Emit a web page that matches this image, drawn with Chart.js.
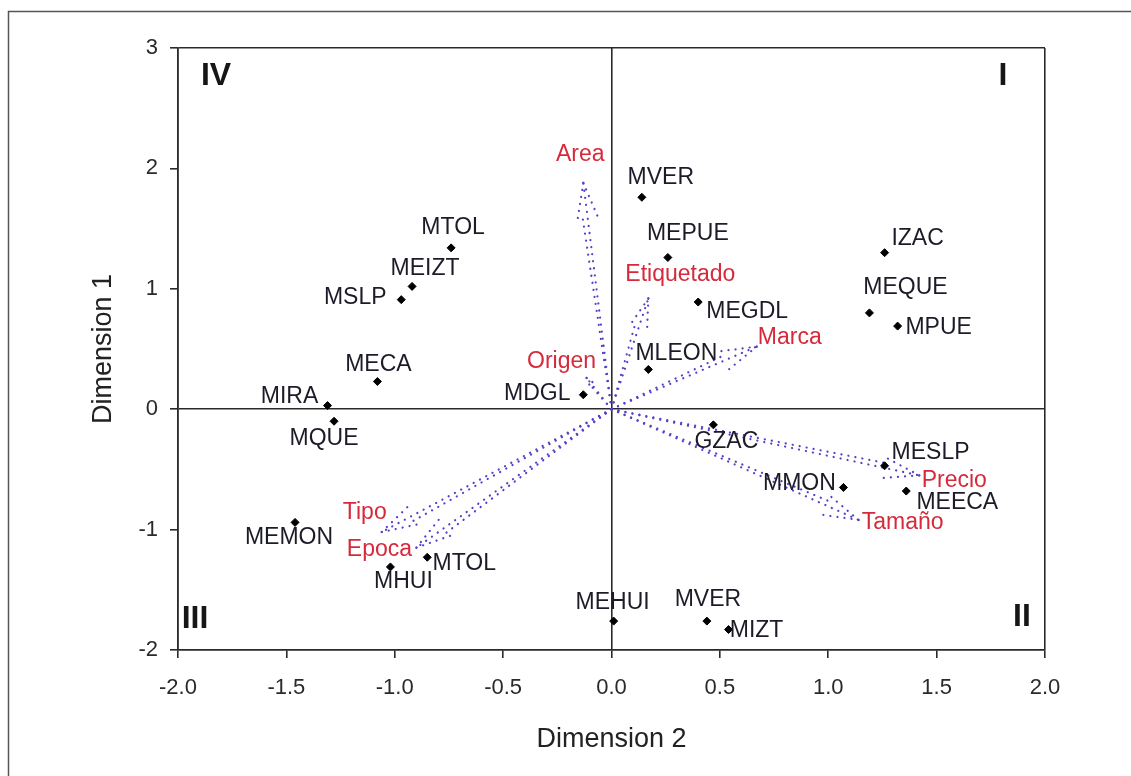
<!DOCTYPE html>
<html>
<head>
<meta charset="utf-8">
<script src="https://cdn.jsdelivr.net/npm/chart.js@4/dist/chart.umd.min.js"></script>
<style>
  html, body { margin: 0; padding: 0; background: #fff; }
  #wrap { width: 1131px; height: 776px; position: relative; }
</style>
</head>
<body>
<div id="wrap"><canvas id="chart"></canvas></div>
<script>
// puntos (mercados) : Dimension 2 = x, Dimension 1 = y
const pointNames = ['MVER', 'MEPUE', 'MEGDL', 'MLEON', 'MDGL', 'IZAC', 'MEQUE', 'MPUE',
    'GZAC', 'MESLP', 'MMON', 'MEECA', 'MEHUI', 'MVER', 'MIZT', 'MTOL', 'MEIZT', 'MSLP',
    'MECA', 'MIRA', 'MQUE', 'MEMON', 'MHUI', 'MTOL'];
const dim2 = [0.14, 0.26, 0.40, 0.17, -0.13, 1.26, 1.19, 1.32,
    0.47, 1.26, 1.07, 1.36, 0.01, 0.44, 0.54, -0.74, -0.92, -0.97,
    -1.08, -1.31, -1.28, -1.46, -1.02, -0.85];
const dim1 = [1.76, 1.26, 0.89, 0.33, 0.12, 1.30, 0.80, 0.69,
    -0.13, -0.47, -0.65, -0.68, -1.76, -1.76, -1.83, 1.34, 1.02, 0.91,
    0.23, 0.03, -0.10, -0.94, -1.31, -1.23];

// variables (flechas)
const varNames = ['Area', 'Etiquetado', 'Marca', 'Origen', 'Precio', 'Tamaño', 'Tipo', 'Epoca'];
const varDim2 = [-0.13, 0.17, 0.67, -0.115, 1.42, 1.14, -1.06, -0.90];
const varDim1 = [1.88, 0.92, 0.52, 0.26, -0.55, -0.92, -1.02, -1.15];

const quadrantNames = ['IV', 'I', 'III', 'II'];

// desplazamiento de etiquetas (px) -- solo estilo
const pointLabelOffsets = [[19, -20], [20, -24], [49, 10], [28, -16], [-46, -1], [33, -14], [36, -25], [41, 2],
    [13, 17], [46, -13], [-44, -4], [51, 12], [-1, -18], [1, -21], [28, 1], [2, -20], [13, -18], [-46, -2],
    [1, -17], [-38, -9], [-10, 17], [-6, 15], [13, 15], [37, 6]];
const varLabelOffsets = [[-3, -28], [32, -24], [33, -9], [-25, -16], [35, 5], [44, 3], [-17, -19], [-37, 2]];

const FONT = "'Liberation Sans', Arial, sans-serif";
const AXIS_COLOR = '#2a2a2a';
const ARROW_COLOR = '#5540c8';

// flechas punteadas desde el origen
const arrowPlugin = {
    id: 'arrows',
    beforeDatasetsDraw(chart) {
        const ctx = chart.ctx;
        const xs = chart.scales.x, ys = chart.scales.y;
        const ox = xs.getPixelForValue(0), oy = ys.getPixelForValue(0);
        ctx.save();
        ctx.strokeStyle = ARROW_COLOR;
        ctx.lineWidth = 2.2;
        ctx.lineCap = 'round';
        ctx.setLineDash([0.1, 7]);
        varNames.forEach((name, i) => {
            const tx = xs.getPixelForValue(varDim2[i]);
            const ty = ys.getPixelForValue(varDim1[i]);
            const len = Math.hypot(tx - ox, ty - oy);
            const ang = Math.atan2(ty - oy, tx - ox);
            const head = Math.min(40, len * 0.3);
            ctx.beginPath();
            ctx.moveTo(ox, oy);
            ctx.lineTo(tx, ty);
            ctx.stroke();
            [-0.28, 0.28].forEach(d => {
                ctx.beginPath();
                ctx.moveTo(tx, ty);
                ctx.lineTo(tx - head * Math.cos(ang + d), ty - head * Math.sin(ang + d));
                ctx.stroke();
            });
            // segundo trazo del cuerpo
            ctx.beginPath();
            ctx.moveTo(ox, oy);
            ctx.lineTo(tx - head * 0.8 * Math.cos(ang + 0.16), ty - head * 0.8 * Math.sin(ang + 0.16));
            ctx.stroke();
        });
        ctx.restore();
    }
};

// etiquetas, cuadrantes y marco exterior
const labelPlugin = {
    id: 'labels',
    afterDatasetsDraw(chart) {
        const ctx = chart.ctx;
        const xs = chart.scales.x, ys = chart.scales.y;
        const a = chart.chartArea;
        ctx.save();
        ctx.textAlign = 'center';
        ctx.textBaseline = 'middle';
        ctx.font = '23px ' + FONT;
        ctx.fillStyle = '#1c1c28';
        pointNames.forEach((name, i) => {
            const px = xs.getPixelForValue(dim2[i]) + pointLabelOffsets[i][0];
            const py = ys.getPixelForValue(dim1[i]) + pointLabelOffsets[i][1];
            ctx.fillText(name, px, py);
        });
        ctx.fillStyle = '#d62a3c';
        varNames.forEach((name, i) => {
            const px = xs.getPixelForValue(varDim2[i]) + varLabelOffsets[i][0];
            const py = ys.getPixelForValue(varDim1[i]) + varLabelOffsets[i][1];
            ctx.fillText(name, px, py);
        });
        ctx.font = 'bold 32px ' + FONT;
        ctx.fillStyle = '#161616';
        const qPos = [[a.left + 38, a.top + 28], [a.right - 42, a.top + 28],
            [a.left + 17, a.bottom - 31], [a.right - 23, a.bottom - 33]];
        quadrantNames.forEach((q, i) => ctx.fillText(q, qPos[i][0], qPos[i][1]));
        // marco
        ctx.strokeStyle = '#555';
        ctx.lineWidth = 1.5;
        ctx.strokeRect(8.5, 11.5, 1300, 1000);
        ctx.restore();
    }
};

function gridColor(c) {
    const v = c.tick ? c.tick.value : null;
    const sc = c.scale;
    if (v === 0 || v === sc.min || v === sc.max) return AXIS_COLOR;
    return 'rgba(0,0,0,0)';
}

const ctx = document.getElementById('chart').getContext('2d');
new Chart(ctx, {
    type: 'scatter',
    data: {
        datasets: [{
            data: dim2.map((x, i) => ({ x: x, y: dim1[i] })),
            backgroundColor: '#000',
            borderColor: '#000',
            pointStyle: 'rectRot',
            pointRadius: 4,
            pointHoverRadius: 4
        }]
    },
    options: {
        responsive: true,
        maintainAspectRatio: false,
        animation: false,
        events: [],
        layout: { padding: { top: 48, right: 86, left: 0, bottom: 0 } },
        plugins: { legend: { display: false }, tooltip: { enabled: false } },
        scales: {
            x: {
                type: 'linear', min: -2, max: 2,
                afterFit: s => { s.height = 126; },
                ticks: {
                    stepSize: 0.5, padding: 17, color: '#2a2a2a',
                    font: { family: FONT, size: 22 },
                    callback: v => v.toFixed(1)
                },
                grid: { color: gridColor, lineWidth: 1.6, tickLength: 8, tickColor: AXIS_COLOR, tickWidth: 1.6 },
                border: { display: true, color: AXIS_COLOR, width: 1.6 },
                title: {
                    display: true, text: 'Dimension 2', color: '#222',
                    font: { family: FONT, size: 27 }, padding: { top: 0, bottom: 20 }
                }
            },
            y: {
                type: 'linear', min: -2, max: 3,
                afterFit: s => { s.width = 178; },
                ticks: {
                    stepSize: 1, padding: 12, color: '#2a2a2a',
                    font: { family: FONT, size: 22 }
                },
                grid: { color: gridColor, lineWidth: 1.6, tickLength: 8, tickColor: AXIS_COLOR, tickWidth: 1.6 },
                border: { display: true, color: AXIS_COLOR, width: 1.6 },
                title: {
                    display: true, text: 'Dimension 1', color: '#222',
                    font: { family: FONT, size: 27 }, padding: { top: 87, bottom: 0 }
                }
            }
        }
    },
    plugins: [arrowPlugin, labelPlugin]
});
</script>
</body>
</html>
